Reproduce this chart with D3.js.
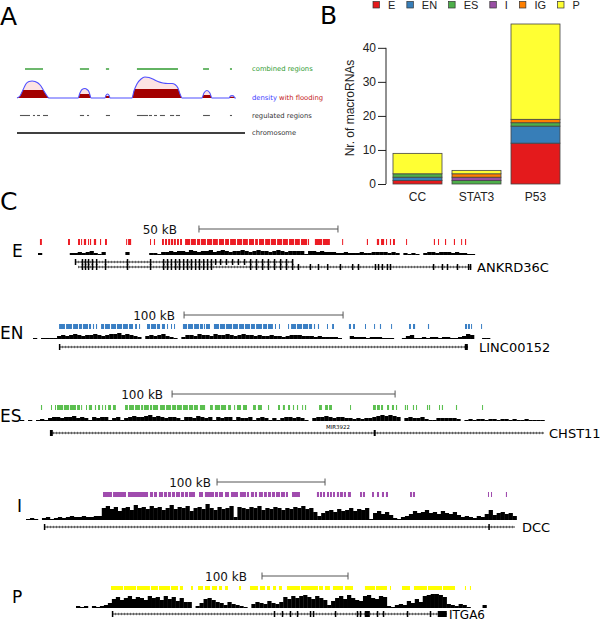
<!DOCTYPE html>
<html><head><meta charset="utf-8">
<script src="https://cdn.jsdelivr.net/npm/d3@7"></script>
<style>body{margin:0;background:#fff}svg{display:block}</style>
</head><body>
<svg id="c" width="600" height="621"></svg>
<script>
// ================= PANEL B DATA =================
const barCategories = ["CC", "STAT3", "P53"];
const barSeries = ["E", "EN", "ES", "I", "IG", "P"];
const barE  = [1, 0, 12];
const barEN = [1, 0, 5];
const barES = [1, 1, 1];
const barI  = [0, 1, 0];
const barIG = [0, 1, 1];
const barP  = [6, 1, 28];
const barTicks = [0, 10, 20, 30, 40];
const seriesColors = ["#E41A1C", "#377EB8", "#4DAF4A", "#984EA3", "#FF7F00", "#FFFF33"];

// ================= PANEL A DATA (schematic, chromosome units 0-100) =================
const densityPoints = [
  [0,0],[1.3,2],[2.6,8],[3.9,14],[5.3,16.5],[6.6,17],[7.9,16.5],[9.2,15],[10.5,12],[11.8,7],[13.2,2],[14.0,0],
  [26.8,0],[27.6,5],[28.5,8.5],[29.8,9.5],[30.7,8.5],[31.6,6],[32.0,3],[32.5,0],
  [38.6,0],[39.0,2.5],[39.7,4],[40.4,2.5],[40.8,0],
  [50.4,0],[51.3,7],[52.6,14],[54.4,19],[56.1,21],[57.9,20.5],[59.6,19],[61.8,16.5],[64.0,15],[66.2,14.5],[68.0,14.5],[69.3,13.5],[70.6,10],[71.5,4],[72.4,0],
  [81.1,0],[82.0,5],[83.3,7.5],[84.6,5],[85.5,0],
  [93.0,0],[93.6,2],[94.3,2.5],[95.0,2],[95.6,0],[96,0]
];
const floodRanges = [[0,14,8],[26.8,32.5,4],[38.6,40.8,2],[50.4,72.4,9],[81.1,85.5,3],[93,95.6,1.2]];
const regulatedRegions = [[1.3,5.7],[7.0,7.9],[8.8,10.1],[11.4,13.6],[27.6,29.4],[30.7,31.6],[39.0,40.8],[52.6,57.5],[57.9,59.2],[60.1,61.4],[62.7,64.9],[67.1,68.9],[69.7,71.5],[81.6,84.6],[93.4,94.3]];
const combinedRegions = [[3.5,11.4],[27.6,31.6],[39.0,40.4],[52.6,70.6],[81.6,84.2],[93.4,94.3]];

// ================= PANEL C DATA (positions in kB) =================
const trackNames = ["E", "EN", "ES", "I", "P"];
const trackColors = ["#ec1c24", "#3a7fc4", "#5bbf4f", "#a04cae", "#ffff00"];
const trackSpanKb = [160, 290, 237, 458, 482];
const scaleBarKb = [[57.9, 50], [95.0, 100], [68.2, 100], [176.9, 100], [216.3, 100]];
const scaleBarLabels = ["50 kB", "100 kB", "100 kB", "100 kB", "100 kB"];
const geneNames = ["ANKRD36C", "LINC00152", "CHST11", "DCC", "ITGA6"];
const mirLabel = {track: 2, pos: 142.6, text: "MIR3922"};

const regionsE = [[0.7,1.4],[10.8,11.5],[14.4,15.1],[15.5,15.8],[16.5,17.3],[18.0,18.3],[18.7,19.1],[20.1,20.9],[22.3,22.7],[24.1,24.8],[31.7,32.0],[32.4,33.5],[40.3,40.6],[41.7,42.1],[44.6,45.3],[45.7,46.4],[46.8,47.5],[47.8,48.6],[48.9,49.6],[50.0,50.7],[51.1,51.8],[52.9,54.7],[55.0,56.8],[57.2,58.3],[58.6,60.4],[60.8,62.6],[62.9,64.7],[65.1,66.9],[67.3,68.7],[69.1,71.2],[71.6,73.4],[73.7,75.5],[75.9,77.7],[78.1,79.1],[79.5,81.3],[81.7,83.5],[83.8,85.6],[86.0,87.8],[88.1,89.9],[90.3,92.1],[92.4,94.2],[94.6,96.8],[97.1,97.5],[99.6,102.2],[102.5,105.0],[109.4,109.7],[118.3,118.7],[121.9,122.7],[123.4,124.5],[125.2,125.5],[126.6,127.0],[127.7,128.4],[132.4,132.7],[142.4,142.8],[143.9,144.2],[146.4,146.8],[149.6,150.0],[152.2,152.5],[153.6,154.0]];
const regionsEN = [[16.4,20.1],[20.8,24.5],[25.2,28.3],[28.9,30.8],[31.4,34.6],[35.2,36.5],[37.7,38.4],[39.6,40.3],[42.8,44.7],[45.3,48.4],[49.1,52.2],[52.8,56.0],[56.6,59.7],[60.4,62.9],[64.2,65.4],[66.7,67.3],[71.7,73.6],[74.2,77.4],[78.0,79.9],[81.1,83.0],[84.3,84.9],[86.8,87.4],[88.7,89.3],[94.3,96.9],[97.5,100.6],[101.3,104.4],[105.0,106.9],[107.5,108.2],[108.8,111.3],[113.8,117.0],[117.6,120.8],[121.4,125.2],[125.8,128.9],[129.6,132.7],[133.3,136.5],[137.1,139.6],[140.3,144.0],[144.7,147.2],[147.8,150.9],[152.2,152.8],[154.7,155.3],[160.4,161.0],[162.3,165.4],[166.0,169.2],[169.8,173.0],[173.6,175.5],[176.7,177.4],[179.2,179.9],[184.9,185.5],[188.1,189.3],[198.7,200.0],[201.3,202.5],[208.8,209.4],[214.5,215.1],[218.2,218.9],[225.2,225.8],[236.5,237.7],[239.0,240.3],[248.4,249.1],[271.7,273.0],[273.6,274.8],[275.5,276.1],[281.8,282.4]];
const regionsES = [[9.4,9.9],[13.9,14.3],[15.7,16.1],[16.6,19.3],[19.7,22.0],[22.4,25.1],[25.6,26.9],[27.4,27.8],[29.6,30.0],[30.9,32.3],[33.6,34.1],[35.0,35.9],[36.8,37.2],[38.1,38.6],[39.5,40.8],[41.7,43.0],[47.1,48.4],[48.9,51.1],[51.6,53.8],[54.3,55.2],[55.6,57.8],[58.3,59.2],[59.6,61.9],[62.8,65.0],[65.5,67.7],[68.2,70.0],[70.4,72.6],[73.1,75.3],[75.8,77.6],[78.0,79.8],[80.7,83.0],[85.2,86.5],[87.4,89.7],[90.1,92.4],[93.3,94.6],[96.0,96.4],[97.3,99.1],[100.0,101.8],[104.5,105.8],[106.7,108.5],[111.2,111.7],[115.7,116.6],[117.9,118.8],[120.2,121.1],[122.4,122.9],[124.2,124.7],[126.5,126.9],[127.8,128.3],[134.1,135.4],[136.8,138.1],[138.6,139.9],[148.0,148.4],[158.3,159.6],[160.1,161.4],[161.9,162.8],[164.6,165.5],[166.8,167.7],[168.6,169.1],[172.6,173.1],[173.5,174.0],[176.2,176.7],[177.6,178.0],[182.5,183.0],[183.4,183.9],[187.9,188.3],[189.2,189.7],[195.5,196.0],[207.2,207.6]];
const regionsI = [[71.3,79.6],[80.6,92.6],[94.4,113.0],[114.8,117.6],[118.5,121.3],[123.1,126.9],[127.8,130.6],[131.5,134.3],[135.2,138.0],[138.9,142.6],[143.5,146.3],[147.2,150.0],[150.9,156.5],[160.2,163.9],[165.7,174.1],[175.0,177.8],[178.7,182.4],[184.3,188.0],[189.8,196.3],[198.1,203.7],[204.6,206.5],[208.3,211.1],[212.0,213.9],[215.7,219.4],[220.4,223.1],[224.1,226.9],[227.8,230.6],[231.5,235.2],[236.1,239.8],[240.7,242.6],[246.3,253.7],[269.4,271.3],[272.2,274.1],[275.0,276.9],[278.7,280.6],[281.5,283.3],[284.3,286.1],[287.9,289.8],[290.7,293.5],[294.4,296.3],[298.1,300.9],[309.3,311.1],[312.0,313.9],[320.4,322.2],[325.0,326.9],[329.6,331.5],[333.3,335.2],[355.6,357.4],[358.3,360.2],[427.8,428.7],[430.6,431.5],[444.4,445.4]];
const regionsP = [[40.7,54.7],[55.8,69.8],[70.9,86.0],[87.2,95.3],[96.5,109.3],[110.5,118.6],[120.9,124.4],[133.7,136.0],[141.9,147.7],[150.0,155.8],[158.1,164.0],[166.3,169.8],[173.3,176.7],[189.5,191.9],[202.3,211.6],[214.0,219.8],[222.1,225.6],[229.1,232.6],[236.0,239.5],[245.3,260.5],[261.6,281.4],[282.6,287.2],[289.5,295.3],[298.8,310.5],[312.8,322.1],[336.0,347.7],[348.8,361.6],[365.1,366.3],[379.1,388.4],[393.0,408.1],[409.3,425.6],[426.7,440.7],[452.3,453.5],[458.1,459.3]];

// density: binned coverage heights (evenly spaced bins across the window)
const densityE = [2,0,0,0,0,0,0,0,2,2,3,2,3,4,2,1,3,0,0,0,0,0,3,0,0,0,0,0,2,2,1,3,3,4,3,4,4,3,5,4,3,4,4,5,3,4,5,4,3,4,4,5,4,3,4,5,4,4,3,4,5,4,3,4,4,4,4,1,4,4,3,4,3,3,3,2,2,3,2,2,2,3,2,2,3,3,3,3,2,3,2,0,2,1,2,1,0,2,3,3,2,3,3,3,2,3,2,2,1,1,0,0];
const densityEN = [1,0,1,1,1,1,3,4,3,4,5,4,3,4,4,5,4,3,4,5,5,6,4,5,4,3,2,0,3,4,3,4,5,3,2,1,0,2,4,4,3,5,4,4,3,5,4,4,5,4,3,4,5,4,4,3,4,3,3,4,3,3,2,3,4,4,4,3,3,3,2,3,2,2,2,2,1,0,0,3,2,2,2,1,2,2,2,1,1,1,0,0,1,3,4,1,1,2,1,2,2,1,2,2,1,1,2,3,5,4,0,0,1,1,0];
const densityES = [1,0,1,0,1,2,1,3,4,4,3,4,4,5,3,4,3,1,4,3,4,4,1,3,4,1,3,4,5,4,4,5,6,4,5,4,3,4,4,3,1,4,4,3,5,4,3,4,1,4,3,4,4,1,4,3,3,4,1,3,4,3,1,3,1,3,4,4,3,4,3,1,0,3,4,4,5,4,3,4,4,3,3,2,3,2,3,3,4,5,6,5,6,5,4,0,3,4,3,3,4,2,1,1,3,3,3,3,3,2,0,1,2,1,2,2,1,2,2,1,2,2,1,2,1,1,2,1,1,1,1,0];
const densityI = [1,2,1,0,2,3,1,2,3,2,3,4,3,3,4,3,3,4,4,12,14,11,13,9,12,13,10,15,12,13,11,14,12,13,10,12,15,11,13,12,14,9,12,13,11,16,12,10,13,11,12,14,3,13,12,11,13,12,14,10,12,11,13,12,10,12,11,13,12,14,11,12,8,4,7,9,10,8,11,9,10,12,9,11,10,12,1,7,9,6,8,5,2,1,3,4,6,9,7,8,10,7,8,6,9,7,6,8,5,3,4,3,2,4,3,6,10,5,7,8,6,7,4,0];
const densityP = [2,1,2,0,2,1,2,3,5,9,11,8,10,12,9,11,10,8,12,10,11,8,12,9,11,7,10,6,6,0,2,5,9,10,8,6,5,3,6,4,3,2,1,0,4,6,5,4,7,5,4,6,11,9,12,10,12,13,11,9,12,10,8,3,7,10,12,9,13,10,8,7,12,13,10,9,12,11,2,1,3,4,3,7,5,9,6,12,13,14,14,13,11,4,3,2,4,3,1,0,0,0,3,0];

// gene models: transcripts with exons (kB)
const genesE = [
  {start:13.3, end:91.7, exons:[13.3,15.8,16.9,18.0,19.4,20.9,24.1,32.0,40.3,45.0,46.4,47.8,49.3,50.7,52.2,53.6,55.0,56.5,57.9,59.4,60.8,62.2,63.7,65.5,67.6,69.8,71.9,74.1,76.3,78.4,80.6,82.7,84.9,87.1,89.2,91.4]},
  {start:14.4, end:155.8, exons:[15.8,16.9,18.0,19.4,20.9,24.1,32.0,40.3,45.0,46.4,47.8,49.3,50.7,52.2,53.6,55.0,56.5,57.9,59.4,60.8,62.2,76.3,78.4,80.6,82.7,84.9,87.1,89.2,91.4,93.5,97.8,100.7,104.0,108.6,113.0,115.1,121.2,122.3,123.7,125.5,126.6,142.1,145.3,147.1,150.7,154.7,155.4]}
];
const genesEN = [{start:16.4, end:273.6, exons:[[16.4,16.8],[271.7,273.6]]}];
const genesES = [{start:13.5, end:235.0, exons:[[13.5,14.8],[158.7,159.6]]}];
const genesI = [{start:16.7, end:452.8, exons:[[16.7,17.4],[428.3,429.2]]}];
const genesP = [{start:41.9, end:431.4, exons:[[41.9,42.8],[230.2,231],[239.5,240.3],[248.8,249.6],[257.0,257.8],[272.1,273],[275.6,276.4],[301.2,302],[326.7,327.5],[330.2,331],[336.0,341.9],[350.0,350.8],[357.0,357.8],[384.9,385.7],[411.6,412.4],[420.9,431.4]]}];

const trackRegions = [regionsE, regionsEN, regionsES, regionsI, regionsP];
const trackDensity = [densityE, densityEN, densityES, densityI, densityP];
const trackGenes = [genesE, genesEN, genesES, genesI, genesP];

// ================= LAYOUT (positions only) =================
const trackLayout = [
  {x0:38, x1:482.8, labelX:12, labelY:257, scaleY:229, textGap:22, tickY:239, tickH:6, densY:255, rows:[262,267], nameDx:6, nameY:272, nameSize:13},
  {x0:33, x1:494.1, labelX:0,  labelY:339, scaleY:315, textGap:9,  tickY:324, tickH:5, densY:339, rows:[347], nameDx:11, nameY:352, nameSize:13},
  {x0:20, x1:548.5, labelX:0,  labelY:422, scaleY:394, textGap:9,  tickY:405, tickH:5, densY:421, rows:[433], nameDx:5, nameY:438, nameSize:13},
  {x0:26, x1:520.6, labelX:17, labelY:512, scaleY:482, textGap:6,  tickY:492, tickH:5, densY:520, rows:[527], nameDx:7, nameY:532, nameSize:13},
  {x0:76, x1:490.5, labelX:12, labelY:603, scaleY:576, textGap:15, tickY:586, tickH:4, densY:608, rows:[614], nameDx:2, nameY:619, nameSize:12}
];

const svg = d3.select("#c");
const SANS = "'DejaVu Sans', sans-serif";
const RFONT = "'Liberation Sans', Arial, sans-serif";

// panel letters
[["A",0,25],["B",320,24],["C",0,210]].forEach(([t,x,y]) =>
  svg.append("text").attr("x",x).attr("y",y).attr("font-family",SANS).attr("font-size",25).attr("fill","#000").text(t));

// ================= PANEL A =================
(function(){
  const g = svg.append("g");
  const xA = d3.scaleLinear().domain([0,100]).range([17,245]);
  const base = 98;
  const hA = d3.scaleLinear().domain([0,25]).range([base, base-25]);
  const area = d3.area().x(d=>xA(d[0])).y0(base).y1(d=>hA(d[1])).curve(d3.curveMonotoneX);
  const line = d3.line().x(d=>xA(d[0])).y(d=>hA(d[1])).curve(d3.curveMonotoneX);
  const clip = g.append("clipPath").attr("id","flood");
  clip.selectAll("rect").data(floodRanges).join("rect")
    .attr("x",d=>xA(d[0])).attr("width",d=>xA(d[1])-xA(d[0]))
    .attr("y",d=>hA(d[2])).attr("height",d=>base-hA(d[2])+0.5);
  g.append("path").datum(densityPoints).attr("d",area).attr("fill","#fbd0d0").attr("opacity",0.6);
  g.append("path").datum(densityPoints).attr("d",area).attr("fill","#a30000").attr("clip-path","url(#flood)");
  g.append("path").datum(densityPoints).attr("d",line).attr("fill","none").attr("stroke","#4f4fff").attr("stroke-width",1.1);
  g.selectAll(".comb").data(combinedRegions).join("line").attr("class","comb")
    .attr("x1",d=>xA(d[0])).attr("x2",d=>xA(d[1])).attr("y1",69).attr("y2",69)
    .attr("stroke","#2e9a2e").attr("stroke-width",1.4);
  g.selectAll(".reg").data(regulatedRegions).join("line").attr("class","reg")
    .attr("x1",d=>xA(d[0])).attr("x2",d=>xA(d[1])).attr("y1",115.5).attr("y2",115.5)
    .attr("stroke","#555").attr("stroke-width",1.1);
  g.append("line").attr("x1",xA(0)).attr("x2",xA(100)).attr("y1",133).attr("y2",133)
    .attr("stroke","#000").attr("stroke-width",1.4);
  const fs = 6.8, lx = 252;
  g.append("text").attr("x",lx).attr("y",71).attr("font-family",SANS).attr("font-size",fs).attr("fill","#2e9a2e").text("combined regions");
  const t = g.append("text").attr("x",lx).attr("y",99.5).attr("font-family",SANS).attr("font-size",fs);
  t.append("tspan").attr("fill","#3c3cff").text("density");
  t.append("tspan").attr("fill","#c42020").text(" with flooding");
  g.append("text").attr("x",lx).attr("y",117.5).attr("font-family",SANS).attr("font-size",fs).attr("fill","#333").text("regulated regions");
  g.append("text").attr("x",lx).attr("y",135).attr("font-family",SANS).attr("font-size",fs).attr("fill","#333").text("chromosome");
})();

// ================= PANEL B =================
(function(){
  const g = svg.append("g");
  const seriesArrays = [barE, barEN, barES, barI, barIG, barP];
  const rows = barCategories.map((c,i)=>{
    const r = {cat:c};
    barSeries.forEach((s,j)=> r[s] = seriesArrays[j][i]);
    return r;
  });
  const stack = d3.stack().keys(barSeries)(rows);
  const totalMax = d3.max(rows, r => d3.sum(barSeries, s => r[s]));
  const y = d3.scaleLinear().domain([0, totalMax]).range([184, 24]);
  const x = d3.scaleBand().domain(barCategories).range([388,565]).paddingInner(0.1695).paddingOuter(0.0847);
  const color = d3.scaleOrdinal().domain(barSeries).range(seriesColors);
  g.selectAll("g.layer").data(stack).join("g").attr("class","layer").attr("fill",d=>color(d.key))
    .selectAll("rect").data(d=>d.filter(v=>v[1]>v[0])).join("rect")
    .attr("x",d=>x(d.data.cat)).attr("width",x.bandwidth())
    .attr("y",d=>y(d[1])).attr("height",d=>y(d[0])-y(d[1]))
    .attr("stroke","#444").attr("stroke-width",0.8);
  const ax = g.append("g").attr("transform","translate(386,0)")
    .call(d3.axisLeft(y).tickValues(barTicks).tickSize(8).tickPadding(2));
  ax.select(".domain").remove();
  ax.selectAll("text").attr("font-family",RFONT).attr("font-size",12).attr("fill","#222");
  ax.selectAll("line").attr("stroke","#222");
  g.append("line").attr("x1",386).attr("x2",386).attr("y1",y(0)).attr("y2",y(barTicks[barTicks.length-1])).attr("stroke","#222");
  g.append("text").attr("transform","translate(354,108) rotate(-90)").attr("text-anchor","middle")
    .attr("font-family",RFONT).attr("font-size",12).attr("fill","#222").text("Nr. of macroRNAs");
  g.selectAll(".cat").data(barCategories).join("text").attr("class","cat")
    .attr("x",d=>x(d)+x.bandwidth()/2).attr("y",201).attr("text-anchor","middle")
    .attr("font-family",RFONT).attr("font-size",12).attr("fill","#222").text(d=>d);
  // legend
  let lx = 373;
  barSeries.forEach((s)=>{
    g.append("rect").attr("x",lx).attr("y",1.5).attr("width",6.5).attr("height",6.5)
      .attr("fill",color(s)).attr("stroke","#333").attr("stroke-width",0.7);
    const tx = g.append("text").attr("x",lx+15).attr("y",8.5).attr("font-family",RFONT)
      .attr("font-size",11).attr("fill","#222").text(s);
    lx += 15 + tx.node().getComputedTextLength() + 11.5;
  });
})();

// ================= PANEL C =================
trackNames.forEach((name, ti) => {
  const L = trackLayout[ti];
  const g = svg.append("g");
  const xs = d3.scaleLinear().domain([0, trackSpanKb[ti]]).range([L.x0, L.x1]);
  const hC = d3.scaleLinear().domain([0, 16]).range([0, 16]);
  // track label
  g.append("text").attr("x",L.labelX).attr("y",L.labelY).attr("font-family",SANS).attr("font-size",17).attr("fill","#000").text(name);
  // scale bar
  const [sb, sl] = scaleBarKb[ti];
  const bx0 = xs(sb), bx1 = xs(sb+sl);
  g.append("line").attr("x1",bx0).attr("x2",bx1).attr("y1",L.scaleY).attr("y2",L.scaleY).attr("stroke","#555").attr("stroke-width",1);
  [bx0,bx1].forEach(bx => g.append("line").attr("x1",bx).attr("x2",bx).attr("y1",L.scaleY-3.5).attr("y2",L.scaleY+3.5).attr("stroke","#555").attr("stroke-width",1));
  g.append("text").attr("x",bx0-L.textGap).attr("y",L.scaleY+5).attr("text-anchor","end")
    .attr("font-family",SANS).attr("font-size",12).attr("fill","#111").text(scaleBarLabels[ti]);
  // region ticks
  g.selectAll(".rg").data(trackRegions[ti]).join("rect").attr("class","rg")
    .attr("x",d=>xs(d[0])).attr("width",d=>Math.max(1, xs(d[1])-xs(d[0])))
    .attr("y",L.tickY).attr("height",L.tickH).attr("fill",trackColors[ti]);
  // density
  const dens = trackDensity[ti];
  const binKb = trackSpanKb[ti] / dens.length;
  g.selectAll(".dn").data(dens.map((v,i)=>({v,i})).filter(d=>d.v>0)).join("rect").attr("class","dn")
    .attr("x",d=>xs(d.i*binKb)).attr("width",d=>xs((d.i+1)*binKb)-xs(d.i*binKb)+0.25)
    .attr("y",d=>L.densY-hC(d.v)).attr("height",d=>hC(d.v)).attr("fill","#000");
  // genes
  trackGenes[ti].forEach((tr, ri) => {
    const ry = L.rows[ri];
    g.append("line").attr("x1",xs(tr.start)).attr("x2",xs(tr.end)).attr("y1",ry).attr("y2",ry)
      .attr("stroke","#000").attr("stroke-width",0.8);
    g.append("line").attr("x1",xs(tr.start)).attr("x2",xs(tr.end)).attr("y1",ry).attr("y2",ry)
      .attr("stroke","#000").attr("stroke-width",2.6).attr("stroke-dasharray","0.7 2.3").attr("opacity",0.55);
    const ex = tr.exons.map(e => Array.isArray(e) ? e : [e, e]);
    g.selectAll(null).data(ex).join("rect")
      .attr("x",d=>xs(d[0])-0.2).attr("width",d=>Math.max(1.5, xs(d[1])-xs(d[0])))
      .attr("y",ry-3).attr("height",6).attr("fill","#000");
  });
  // gene name
  const lastGene = trackGenes[ti][trackGenes[ti].length-1];
  const gEnd = d3.max(trackGenes[ti], t=>t.end);
  g.append("text").attr("x",xs(gEnd)+L.nameDx).attr("y",L.nameY).attr("font-family",SANS)
    .attr("font-size",L.nameSize).attr("fill","#000").text(geneNames[ti]);
  if (mirLabel.track === ti) {
    g.append("text").attr("x",xs(mirLabel.pos)).attr("y",L.rows[0]-4.5).attr("text-anchor","middle")
      .attr("font-family",SANS).attr("font-size",5.5).attr("fill","#000").text(mirLabel.text);
  }
});
</script>
</body></html>
